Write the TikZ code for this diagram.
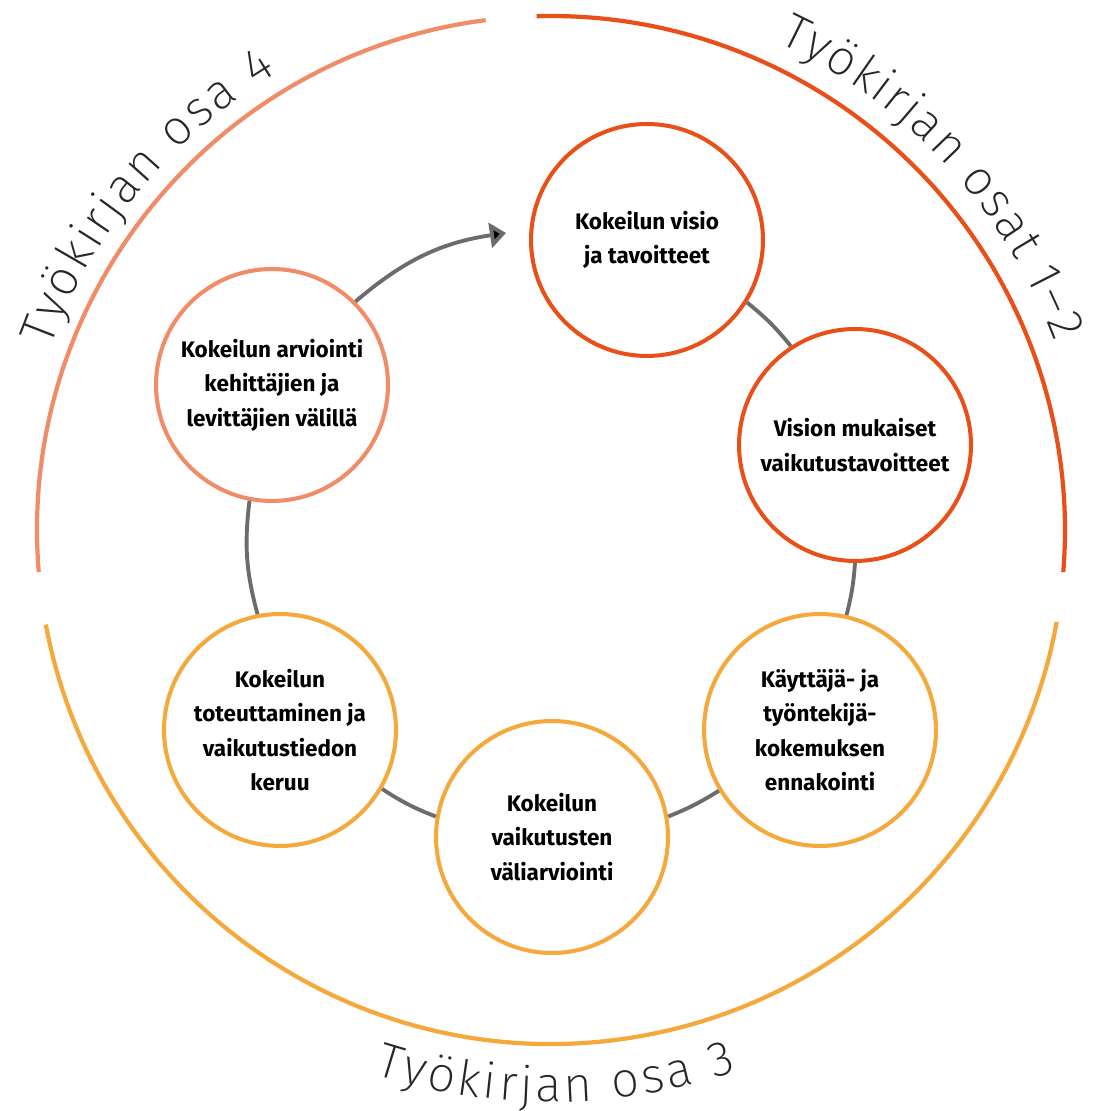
\documentclass[tikz,border=0pt]{standalone}
\usepackage{fontspec}
\setmainfont{Fira Sans}
\IfFontExistsTF{Fira Sans ExtraLight}{\newfontfamily\thinfont{Fira Sans ExtraLight}}{%
  \IfFontExistsTF{Fira Sans Light}{\newfontfamily\thinfont{Fira Sans Light}}{\newfontfamily\thinfont{Fira Sans}}}
\usetikzlibrary{arrows.meta,decorations.text}
\definecolor{punainen}{RGB}{233,80,25}
\definecolor{lohi}{RGB}{241,140,105}
\definecolor{keltainen}{RGB}{245,168,60}
\definecolor{harmaa}{RGB}{108,108,108}

\begin{document}
\begin{tikzpicture}[x=0.02cm,y=0.02cm,
  vaihe/.style={circle,draw,line width=2.3pt,fill=white,minimum size=4.64cm,inner sep=0pt,align=center,
    font=\bfseries\fontsize{12.8}{19.6}\selectfont},
  kaari/.style={line width=2.4pt},
  osa/.style={decorate,decoration={text along path,text align=fit to path,text color=black!85}}]
\useasboundingbox (0,0) rectangle (1095,1111);
\coordinate (C) at (551,581);
% ulkokaaret
\draw[kaari,punainen] ([shift={(91.6:514)}]C) arc[start angle=91.6,end angle=-4.7,radius=514];
\draw[kaari,lohi] ([shift={(97.3:514)}]C) arc[start angle=97.3,end angle=184.7,radius=514];
\draw[kaari,keltainen] ([shift={(190.6:514)}]C) arc[start angle=190.6,end angle=349.7,radius=514];
\path[osa,decoration={text={|\thinfont\fontsize{28}{32}\selectfont|Työkirjan osa 4}}]
  ([shift={(160:533)}]C) arc[start angle=160,end angle=121,radius=533];
\path[osa,decoration={text={|\thinfont\fontsize{28}{32}\selectfont|Työkirjan osat 1–2}}]
  ([shift={(65:538)}]C) arc[start angle=65,end angle=20.5,radius=538];
\path[osa,decoration={text={|\thinfont\fontsize{28}{32}\selectfont|Työkirjan osa 3}}]
  ([shift={(252:572)}]C) arc[start angle=252,end angle=289,radius=572];
% vaiheet
\node[vaihe,draw=punainen] (V) at (647,871) {Kokeilun visio\\ja tavoitteet};
\node[vaihe,draw=punainen] (M) at (855,666) {Vision mukaiset\\vaikutustavoitteet};
\node[vaihe,draw=keltainen] (K) at (820,381) {Käyttäjä- ja\\työntekijä-\\kokemuksen\\ennakointi};
\node[vaihe,draw=keltainen] (W) at (552,274) {Kokeilun\\vaikutusten\\väliarviointi};
\node[vaihe,draw=keltainen] (T) at (280,381) {Kokeilun\\toteuttaminen ja\\vaikutustiedon\\keruu};
\node[vaihe,draw=lohi] (A) at (272,726) {Kokeilun arviointi\\kehittäjien ja\\levittäjien välillä};
\coordinate (Z) at (506,878);
\path[draw=harmaa,line width=2.2pt]
(V.-32) edge[bend left=6] (M.123)
(M.-90) edge[bend left=5] (K.77)
(K.211) edge[bend left=5] (W.10)
(W.170) edge[bend left=6] (T.-30)
(T.101) edge[bend left=11] (A.-101)
(A.45) edge[bend left=16,-{Triangle[length=0.32cm,width=0.5cm]}] (Z);
\end{tikzpicture}
\end{document}
